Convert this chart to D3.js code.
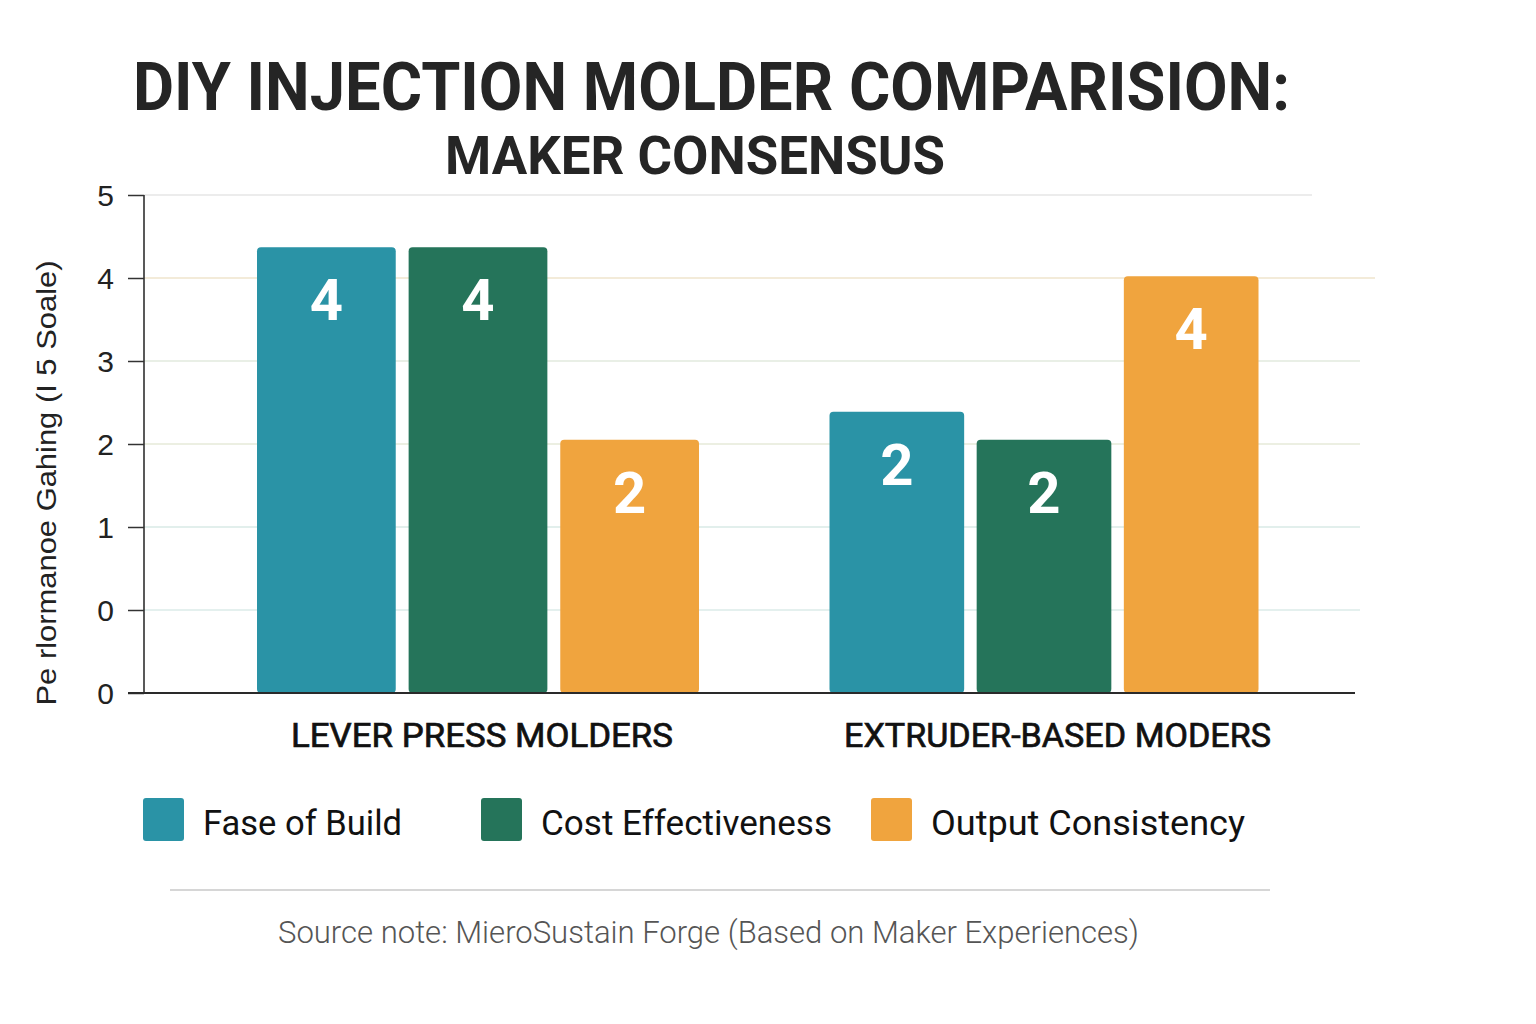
<!DOCTYPE html>
<html><head><meta charset="utf-8">
<script src="https://cdn.jsdelivr.net/npm/d3@7"></script>
<style>body{margin:0;background:#fff}svg{display:block}</style>
</head><body>
<svg id="c" width="1536" height="1024"></svg>
<script>
const categories = ["LEVER PRESS MOLDERS", "EXTRUDER-BASED MODERS"];
const seriesNames = ["Fase of Build", "Cost Effectiveness", "Output Consistency"];
const seriesColors = ["#2a93a6", "#25745a", "#f0a43e"];
// bar heights in axis-position units
const easeHeights = [5.37, 3.39];
const costHeights = [5.37, 3.05];
const outputHeights = [3.05, 5.02];
// numbers printed on bars
const easeLabels = ["4", "2"];
const costLabels = ["4", "2"];
const outputLabels = ["2", "4"];
const tickLabels = ["0", "0", "1", "2", "3", "4", "5"];
const tickValues = [0, 1, 2, 3, 4, 5, 6];

const svg = d3.select("#c");
const y = d3.scaleLinear().domain([0, 6]).range([693, 195]);
const x0 = d3.scalePoint().domain(categories).range([478, 1044]);
const groupWidths = [442, 429];
const color = d3.scaleOrdinal().domain(seriesNames).range(seriesColors);

const heights = [easeHeights, costHeights, outputHeights];
const labels = [easeLabels, costLabels, outputLabels];
const data = [];
categories.forEach((c, ci) => {
  const x1 = d3.scaleBand().domain(seriesNames)
    .range([-groupWidths[ci] / 2, groupWidths[ci] / 2]).paddingInner(0.085);
  seriesNames.forEach((s, si) => {
    data.push({cat: c, ser: s, h: heights[si][ci], label: labels[si][ci],
      x: x0(c) + x1(s), w: x1.bandwidth()});
  });
});

// gridlines
const gridEnds = [1295, 1360, 1360, 1360, 1360, 1375, 1312];
const gridCols = ["#eef0ea", "#e4f0ee", "#e2efec", "#ecefe2", "#e9efe6", "#f3ebd9", "#ececec"];
svg.append("g").selectAll("line").data(tickValues).join("line")
  .attr("x1", 144).attr("x2", (d, i) => gridEnds[i])
  .attr("y1", d => y(d)).attr("y2", d => y(d))
  .attr("stroke", (d, i) => gridCols[i]).attr("stroke-width", 2);

// y axis
const yAxis = d3.axisLeft(y).tickValues(tickValues).tickFormat((d, i) => tickLabels[i])
  .tickSize(16).tickPadding(14);
const ya = svg.append("g").attr("transform", "translate(144,0)").call(yAxis);
ya.select(".domain").attr("stroke", "#222").attr("stroke-width", 1.5).attr("d", `M0,${y(6)}V${y(0)}`);
ya.selectAll(".tick line").attr("stroke", "#333").attr("stroke-width", 1.5);
ya.selectAll(".tick text").attr("font-family", "Liberation Sans, Arial, sans-serif")
  .attr("font-size", 30).attr("fill", "#222").attr("dy", "0.35em");

// bars
svg.append("g").selectAll("rect").data(data).join("rect")
  .attr("x", d => d.x)
  .attr("width", d => d.w)
  .attr("y", d => y(d.h))
  .attr("height", d => y(0) - y(d.h))
  .attr("rx", 4)
  .attr("fill", d => color(d.ser));

svg.append("g").selectAll("text").data(data).join("text")
  .attr("x", d => d.x + d.w / 2)
  .attr("y", d => y(d.h) + 73)
  .attr("text-anchor", "middle")
  .attr("font-family", "Roboto, Arial, sans-serif").attr("font-weight", 700)
  .attr("font-size", 58).attr("fill", "#fff")
  .text(d => d.label);

// x baseline
svg.append("line").attr("x1", 128).attr("x2", 1355).attr("y1", y(0)).attr("y2", y(0))
  .attr("stroke", "#2a2a2a").attr("stroke-width", 2);

// category labels
const catLabelX = [291, 844];
const catLabelW = [382, 427];
svg.append("g").selectAll("text").data(categories).join("text")
  .attr("x", (d, i) => catLabelX[i])
  .attr("y", 747)
  .attr("textLength", (d, i) => catLabelW[i]).attr("lengthAdjust", "spacingAndGlyphs")
  .attr("font-family", "Roboto, Arial, sans-serif").attr("font-weight", 400)
  .attr("font-size", 33).attr("fill", "#111")
  .attr("stroke", "#111").attr("stroke-width", 0.7)
  .text(d => d);

// title
svg.append("text").attr("x", 133).attr("y", 110)
  .attr("textLength", 1157).attr("lengthAdjust", "spacingAndGlyphs")
  .attr("font-family", "Roboto, Arial, sans-serif").attr("font-weight", 700)
  .attr("font-size", 66).attr("fill", "#252525")
  .text("DIY INJECTION MOLDER COMPARISION:");
svg.append("text").attr("x", 445).attr("y", 174)
  .attr("textLength", 500).attr("lengthAdjust", "spacingAndGlyphs")
  .attr("font-family", "Roboto, Arial, sans-serif").attr("font-weight", 700)
  .attr("font-size", 54).attr("fill", "#252525")
  .text("MAKER CONSENSUS");

// y label
svg.append("text").attr("transform", "translate(56,483) rotate(-90)")
  .attr("text-anchor", "middle")
  .attr("textLength", 445).attr("lengthAdjust", "spacingAndGlyphs")
  .attr("font-family", "Liberation Sans, Arial, sans-serif")
  .attr("font-size", 28).attr("fill", "#222")
  .text("Pe rlormanoe Gahing (I  5 Soale)");

// legend
const legX = [143, 481, 871];
const legW = [199, 291, 314];
const lg = svg.append("g").selectAll("g").data(seriesNames).join("g")
  .attr("transform", (d, i) => `translate(${legX[i]},798)`);
lg.append("rect").attr("width", 41).attr("height", 43).attr("rx", 3).attr("fill", d => color(d));
lg.append("text").attr("x", 60).attr("y", 37)
  .attr("textLength", (d, i) => legW[i]).attr("lengthAdjust", "spacingAndGlyphs")
  .attr("font-family", "Roboto, Arial, sans-serif").attr("font-size", 35).attr("fill", "#111")
  .text(d => d);

// separator
svg.append("line").attr("x1", 170).attr("x2", 1270).attr("y1", 890).attr("y2", 890)
  .attr("stroke", "#c8c8c8").attr("stroke-width", 1.5);

// source
svg.append("text").attr("x", 278).attr("y", 943)
  .attr("textLength", 861).attr("lengthAdjust", "spacingAndGlyphs")
  .attr("font-family", "Roboto, Arial, sans-serif").attr("font-weight", 300)
  .attr("font-size", 31).attr("fill", "#555")
  .text("Source note: MieroSustain Forge (Based on Maker Experiences)");
</script>
</body></html>
